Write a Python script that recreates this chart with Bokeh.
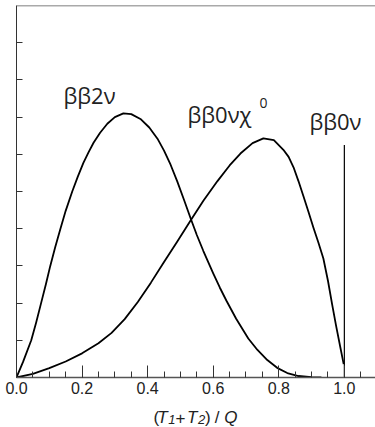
from bokeh.plotting import figure
from bokeh.layouts import column
from bokeh.models import (Range1d, FixedTicker, PrintfTickFormatter, Label, Span,
                          CustomLabelingPolicy)
from bokeh.embed import file_html
from bokeh.resources import INLINE

# ββ2ν continuous two-neutrino spectrum
x_2nu = [0.0, 0.02, 0.045, 0.06, 0.075, 0.09, 0.103, 0.118, 0.134, 0.15, 0.17, 0.187,
         0.204, 0.22, 0.235, 0.255, 0.277, 0.30, 0.326, 0.35, 0.378, 0.405, 0.43, 0.45,
         0.47, 0.49, 0.51, 0.531, 0.55, 0.57, 0.60, 0.62, 0.64, 0.67, 0.707, 0.735,
         0.765, 0.795, 0.826, 0.86, 0.90, 0.93]
y_2nu = [0.0, 0.42, 1.0, 1.48, 2.0, 2.52, 3.0, 3.5, 4.0, 4.48, 5.0, 5.4,
         5.77, 6.06, 6.31, 6.58, 6.82, 7.0, 7.1, 7.08, 6.95, 6.72, 6.42, 6.1,
         5.72, 5.28, 4.8, 4.28, 3.83, 3.4, 2.8, 2.42, 2.07, 1.58, 1.05, 0.74,
         0.47, 0.26, 0.12, 0.04, 0.01, 0.0]

# ββ0νχ0 majoron-emitting spectrum
x_0nuchi = [0.0, 0.05, 0.10, 0.15, 0.20, 0.25, 0.29, 0.33, 0.37, 0.41, 0.448, 0.49,
            0.531, 0.57, 0.613, 0.65, 0.683, 0.72, 0.753, 0.785, 0.814, 0.83, 0.845,
            0.86, 0.875, 0.89, 0.906, 0.921, 0.936, 0.95, 0.963, 0.975, 0.988, 0.998]
y_0nuchi = [0.0, 0.1, 0.25, 0.43, 0.65, 0.92, 1.2, 1.57, 2.03, 2.55, 3.08, 3.65,
            4.22, 4.75, 5.28, 5.7, 6.02, 6.3, 6.43, 6.38, 6.12, 5.93, 5.65,
            5.28, 4.88, 4.47, 4.02, 3.62, 3.2, 2.6, 1.95, 1.38, 0.8, 0.36]

# ββ0ν line at the endpoint
x_0nu = [1.0, 1.0]
y_0nu = [0.0, 6.25]

x_major = [0.0, 0.2, 0.4, 0.6, 0.8, 1.0]
x_minor = [round(0.05 * i, 2) for i in range(22)]
y_ticks = [1, 2, 3, 4, 5, 6, 7, 8, 9]

p = figure(width=375, height=400, output_backend="svg", toolbar_location=None,
           x_range=Range1d(0, 1.095), y_range=Range1d(0, 10),
           min_border_left=16, min_border_right=0, min_border_top=5, min_border_bottom=23)
p.outline_line_color = None
p.grid.visible = False

ax = p.xaxis[0]
ax.ticker = FixedTicker(ticks=x_major, minor_ticks=x_minor)
ax.formatter = PrintfTickFormatter(format="%.1f")
ax.major_tick_in = 12
ax.major_tick_out = 0
ax.minor_tick_in = 6
ax.minor_tick_out = 0
ax.axis_line_color = "#555555"
ax.axis_line_width = 1.3
ax.major_tick_line_color = "#333333"
ax.minor_tick_line_color = "#333333"
ax.major_label_text_font = "Liberation Sans"
ax.major_label_text_font_size = "16px"
ax.major_label_text_color = "#222222"
ax.major_label_standoff = 4

# unlabeled left axis: ticks only (no tick labels are drawn)
no_labels = CustomLabelingPolicy(code="""
try {
  const n = indices.size
  for (let i = 0; i < n; i++) {
    if (indices.get(i)) {
      if (typeof indices.unset === "function") { indices.unset(i) } else { indices.set(i, false) }
    }
  }
} catch (e) {}
return indices
""")

ay = p.yaxis[0]
ay.ticker = FixedTicker(ticks=y_ticks)
ay.major_tick_in = 6
ay.major_tick_out = 0
ay.minor_tick_line_color = None
ay.axis_line_color = "#333333"
ay.major_tick_line_color = "#333333"
ay.major_label_text_font_size = "0px"
ay.major_label_standoff = 0
ay.major_label_policy = no_labels

p.add_layout(Span(location=10, dimension="width", line_color="#555555", line_width=1.5))

p.line(x_2nu, y_2nu, line_color="black", line_width=1.8, line_join="round")
p.line(x_0nuchi, y_0nuchi, line_color="black", line_width=1.8, line_join="round")
p.line(x_0nu, y_0nu, line_color="black", line_width=1.2)

PX = 327.9
PY = 37.2
SHIFT = 6  # compensates the renderer's baseline offset


def dx(px):
    return (px - 16.0) / PX


def dy(py):
    return (376.5 - (py - SHIFT)) / PY


def lab(fig, x, y, text, size, font="Open Sans", style="normal"):
    fig.add_layout(Label(x=x, y=y, text=text, text_font=font,
                         text_font_size=size, text_font_style=style,
                         text_color="#222222", text_baseline="alphabetic",
                         text_align="left"))


lab(p, dx(63), dy(100), "ββ2ν", "22px")
lab(p, dx(187), dy(119), "ββ0νχ", "22px")
lab(p, dx(259), dy(108), "0", "14px")
lab(p, dx(309), dy(126), "ββ0ν", "22px")

# axis title (T1+T2) / Q in its own strip below the plot
t = figure(width=375, height=27, output_backend="svg", toolbar_location=None,
           x_range=Range1d(0, 375), y_range=Range1d(427, 400),
           x_axis_type=None, y_axis_type=None,
           min_border_left=0, min_border_right=0, min_border_top=0, min_border_bottom=0)
t.outline_line_color = None
t.grid.visible = False

F = "Liberation Sans"
B = 417
X0 = -9  # strip offset correction
lab(t, X0 + 152, B, "(", "17px", F)
lab(t, X0 + 156, B, "T", "17px", F, "italic")
lab(t, X0 + 167.5, B + 1.5, "1", "13px", F, "italic")
lab(t, X0 + 175, B, "+", "17px", F)
lab(t, X0 + 187, B, "T", "17px", F, "italic")
lab(t, X0 + 198.5, B + 1.5, "2", "13px", F, "italic")
lab(t, X0 + 206, B, ")", "17px", F)
lab(t, X0 + 216, B, "/", "17px", F)
lab(t, X0 + 226, B, "Q", "17px", F, "italic")

layout = column(p, t, spacing=0)
open("out.html", "w").write(file_html(layout, INLINE))
